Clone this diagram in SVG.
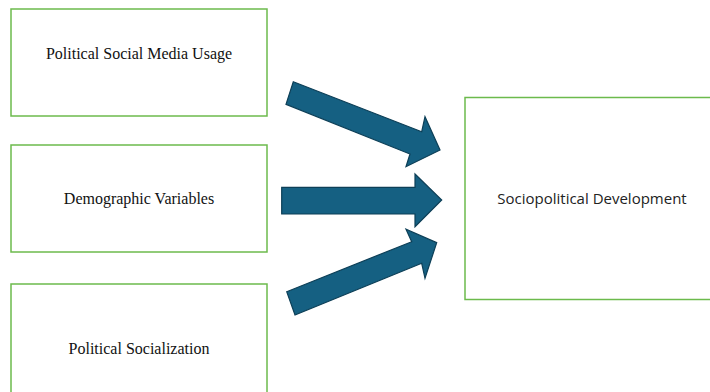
<svg xmlns="http://www.w3.org/2000/svg" width="710" height="392" viewBox="0 0 710 392">
  <style>
    .box { fill: #ffffff; stroke: #6cba4c; stroke-width: 1.5; }
    .serif { font-family: "Liberation Serif", "Times New Roman", serif; font-size: 16px; fill: #111111; }
    .sans { font-family: "Open Sans", "Liberation Sans", Arial, sans-serif; font-size: 15px; fill: #222222; }
    .arrow { fill: #156082; stroke: #0d3f57; stroke-width: 1.2; stroke-linejoin: miter; }
  </style>
  <rect width="710" height="392" fill="#ffffff"/>

  <g id="node-social-media">
    <rect class="box" x="11" y="9" width="256" height="107"/>
    <text class="serif" x="139" y="59" text-anchor="middle">Political Social Media Usage</text>
  </g>

  <g id="node-demographic">
    <rect class="box" x="11" y="145" width="256" height="107"/>
    <text class="serif" x="139" y="204" text-anchor="middle">Demographic Variables</text>
  </g>

  <g id="node-socialization">
    <rect class="box" x="11" y="284" width="256" height="120"/>
    <text class="serif" x="139" y="354" text-anchor="middle">Political Socialization</text>
  </g>

  <g id="node-sociopolitical">
    <rect class="box" x="465" y="97.5" width="260" height="202"/>
    <text class="sans" x="592" y="204" text-anchor="middle">Sociopolitical Development</text>
  </g>

  <g id="connectors">
    <polygon class="arrow" points="293.3,81.7 421.7,131.7 425,116.7 440,150 406,166.7 410,154 286,104.3"/>
    <polygon class="arrow" points="281.7,187.3 415,187.3 415,174 441.7,200 415,226.7 415,214 281.7,214"/>
    <polygon class="arrow" points="286.7,291.7 411.7,241.7 406,229.3 436.7,242.7 425,278.3 421.7,263.3 295,315"/>
  </g>
</svg>
